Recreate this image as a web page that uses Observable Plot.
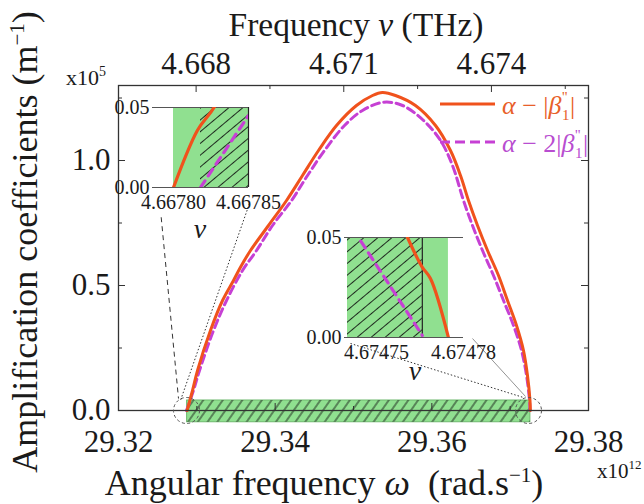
<!DOCTYPE html>
<html><head><meta charset="utf-8">
<script src="https://cdn.jsdelivr.net/npm/d3@7"></script>
<script src="https://cdn.jsdelivr.net/npm/@observablehq/plot@0.6"></script>
<style>
html,body{margin:0;padding:0;background:#fff;}
#wrap{position:relative;width:644px;height:504px;overflow:hidden;font-family:'Liberation Serif','Times New Roman',Times,'DejaVu Serif',serif;}
#wrap > svg{position:absolute;}
</style></head>
<body>
<svg width="0" height="0" style="position:absolute">
 <defs>
  <pattern id="hatchMain" patternUnits="userSpaceOnUse" width="8" height="8" patternTransform="rotate(35)">
   <line x1="4" y1="0" x2="4" y2="8" stroke="#1f2a1f" stroke-width="1"/>
  </pattern>
  <pattern id="hatchInset" patternUnits="userSpaceOnUse" width="9" height="9" patternTransform="rotate(50)">
   <line x1="4.5" y1="0" x2="4.5" y2="9" stroke="#1f2a1f" stroke-width="1"/>
  </pattern>
 </defs>
</svg>
<div id="wrap"></div>
<script>
// ---------- data (omega in 1e12 rad/s, amplitude in 1e5 m^-1) ----------
const orangeOmega = [29.32876, 29.32945, 29.33009, 29.33174, 29.33328, 29.33468, 29.33557, 29.33685, 29.33915, 29.34145, 29.34349, 29.34553, 29.34783, 29.35038, 29.35243, 29.35370, 29.35536, 29.35791, 29.36047, 29.36238, 29.36366, 29.36468, 29.36583, 29.36711, 29.36851, 29.36966, 29.37081, 29.37170, 29.37221, 29.37253, 29.37258];
const orangeAmp   = [0, 0.08, 0.16, 0.32, 0.44, 0.52, 0.573, 0.64, 0.74, 0.84, 0.94, 1.04, 1.14, 1.22, 1.26, 1.272, 1.26, 1.22, 1.14, 1.04, 0.94, 0.84, 0.74, 0.64, 0.54, 0.44, 0.34, 0.24, 0.14, 0.04, 0];
const magentaOmega = [29.32868, 29.32957, 29.33034, 29.33213, 29.33379, 29.33583, 29.33762, 29.33966, 29.34209, 29.34413, 29.34630, 29.34885, 29.35115, 29.35383, 29.35626, 29.35894, 29.36111, 29.36264, 29.36404, 29.36519, 29.36647, 29.36787, 29.36915, 29.37043, 29.37145, 29.37209, 29.37247, 29.37253];
const magentaAmp   = [0, 0.08, 0.16, 0.32, 0.44, 0.56, 0.64, 0.74, 0.84, 0.94, 1.04, 1.14, 1.20, 1.233, 1.22, 1.16, 1.08, 0.98, 0.84, 0.74, 0.64, 0.54, 0.44, 0.34, 0.24, 0.14, 0.04, 0];
const bandOmega = [29.32876, 29.37258];
const bandAmp = [-0.047, 0.04];
const xTicks = [29.32, 29.34, 29.36, 29.38];
const xMinor = [29.33, 29.35, 29.37];
const yTicks = [0, 0.5, 1.0];
const yMinor = [0.25, 0.75, 1.25];
const nuTicks = [4.668, 4.671, 4.674];
const nuMinor = [4.6695, 4.6725, 4.6755];
const zoomOmega = [29.32868, 29.37234];
const zoomAmp = [0, 0];
// connector lines [x1,y1,x2,y2]
const linkDashed = [[29.32545, 0.773, 29.32766, 0.048]];
const linkDotted = [[29.33672, 0.828, 29.32791, 0.04], [29.34962, 0.268, 29.37170, 0.052]];
const linkSolid  = [[29.36519, 0.288, 29.37196, 0.056]];
// inset 1 (frequency nu in THz, amplitude 1e5 m^-1)
const in1Domain = [4.667788, 4.66785];
const in1Ticks = [4.66780, 4.66785];
const in1OrangeNu = [4.66780, 4.6678159, 4.667827, 4.6678285];
const in1OrangeAmp = [0, 0.0356, 0.05, 0.0525];
const in1MagentaNu = [4.667818, 4.66785];
const in1MagentaAmp = [0, 0.045];
const in1Green = [4.66780, 4.66785];
const in1Hatch = [4.667818, 4.66785];
// inset 2
const in2Domain = [4.67474, 4.67478];
const in2Ticks = [4.67475, 4.67478];
const in2OrangeNu = [4.6747607, 4.6747658, 4.6747686, 4.6747748];
const in2OrangeAmp = [0.05, 0.0351, 0.0295, 0];
const in2MagentaNu = [4.6747446, 4.6747658];
const in2MagentaAmp = [0.0482, 0.001];
const in2Green = [4.67474, 4.6747748];
const in2Hatch = [4.67474, 4.6747658];
const insetYTicks = [0, 0.05];

// ---------- styles ----------
const FONT = "'Liberation Serif','Times New Roman',Times,'DejaVu Serif',serif";
const ORANGE = "#f0521c";
const MAGENTA = "#c640d4";
const GREEN = "#90e090";
const INK = "#1a1a1a";

const pts = (xs, ys) => xs.map((x, i) => ({x, y: ys[i]}));
const wrap = document.getElementById("wrap");

// ---------- main chart ----------
const PW = 470, PH = 325;
const main = Plot.plot({
  width: 644, height: 504,
  marginLeft: 118, marginRight: 56, marginTop: 85, marginBottom: 94,
  x: {domain: [29.32, 29.38]},
  y: {domain: [0, 1.3]},
  style: {fontFamily: FONT, fontSize: "31px", color: INK, background: "transparent", overflow: "visible"},
  marks: [
    Plot.rect([{a: bandOmega[0], b: bandOmega[1], c: bandAmp[0], d: bandAmp[1]}], {x1: "a", x2: "b", y1: "c", y2: "d", fill: GREEN, stroke: "#6cb86c", strokeWidth: 1}),
    Plot.rect([{a: bandOmega[0], b: bandOmega[1], c: bandAmp[0], d: bandAmp[1]}], {x1: "a", x2: "b", y1: "c", y2: "d", fill: "url(#hatchMain)"}),
    Plot.line(pts(magentaOmega, magentaAmp), {x: "x", y: "y", stroke: MAGENTA, strokeWidth: 3, strokeDasharray: "8,4.5", curve: "catmull-rom"}),
    Plot.line(pts(orangeOmega, orangeAmp), {x: "x", y: "y", stroke: ORANGE, strokeWidth: 3, curve: "catmull-rom"}),
    Plot.frame({stroke: "#333", strokeWidth: 1.3}),
    // inward ticks
    Plot.ruleX(xTicks, {x: d => d, insetTop: PH - 7, stroke: "#333"}),
    Plot.ruleX(xMinor, {x: d => d, insetTop: PH - 4, stroke: "#333"}),
    Plot.ruleX(nuTicks, {x: d => 2 * Math.PI * d, insetBottom: PH - 7, stroke: "#333"}),
    Plot.ruleX(nuMinor, {x: d => 2 * Math.PI * d, insetBottom: PH - 4, stroke: "#333"}),
    Plot.ruleY(yTicks, {y: d => d, insetRight: PW - 7, stroke: "#333"}),
    Plot.ruleY(yMinor, {y: d => d, insetRight: PW - 4, stroke: "#333"}),
    Plot.ruleY(yTicks, {y: d => d, insetLeft: PW - 7, stroke: "#333"}),
    Plot.ruleY(yMinor, {y: d => d, insetLeft: PW - 4, stroke: "#333"}),
    Plot.axisX(xTicks, {anchor: "bottom", tickSize: 0, tickPadding: 19, tickFormat: d3.format(".2f"), label: null}),
    Plot.axisX(nuTicks.map(n => 2 * Math.PI * n), {anchor: "top", tickSize: 0, tickPadding: 12, tickFormat: d => (d / (2 * Math.PI)).toFixed(3), label: null}),
    Plot.axisY(yTicks, {anchor: "left", tickSize: 0, tickPadding: 8, tickFormat: d3.format(".1f"), label: null}),
    // zoom markers and connectors
    Plot.dot(pts(zoomOmega, zoomAmp), {x: "x", y: "y", r: 13, stroke: "#555", strokeWidth: 1, strokeDasharray: "3,2.5", fill: "none"}),
    Plot.link(linkDashed, {x1: d => d[0], y1: d => d[1], x2: d => d[2], y2: d => d[3], stroke: "#333", strokeWidth: 1, strokeDasharray: "5,4"}),
    Plot.link(linkDotted, {x1: d => d[0], y1: d => d[1], x2: d => d[2], y2: d => d[3], stroke: "#333", strokeWidth: 1, strokeDasharray: "1.5,2"}),
    Plot.link(linkSolid, {x1: d => d[0], y1: d => d[1], x2: d => d[2], y2: d => d[3], stroke: "#777", strokeWidth: 0.8})
  ]
});
main.style.left = "0px"; main.style.top = "0px";
wrap.appendChild(main);

// ---------- insets ----------
function inset({left, top, mL, mR, pw, ph, domain, ticks, orNu, orAmp, mgNu, mgAmp, green, hatch, border}) {
  const svg = Plot.plot({
    width: mL + pw + mR, height: 7 + ph + 50,
    marginLeft: mL, marginRight: mR, marginTop: 7, marginBottom: 50,
    x: {domain},
    y: {domain: [0, 0.05]},
    style: {fontFamily: FONT, fontSize: "20px", color: INK, background: "transparent", overflow: "visible"},
    marks: [
      Plot.rect([{a: green[0], b: green[1]}], {x1: "a", x2: "b", y1: 0, y2: 0.05, fill: GREEN}),
      Plot.rect([{a: hatch[0], b: hatch[1]}], {x1: "a", x2: "b", y1: 0, y2: 0.05, fill: "url(#hatchInset)"}),
      Plot.ruleX([border], {x: d => d, y1: 0, y2: 0.05, stroke: "#222", strokeWidth: 1.2}),
      Plot.ruleY(insetYTicks, {y: d => d, stroke: "#555", strokeWidth: 1.2, insetLeft: -3}),
      Plot.line(pts(mgNu, mgAmp), {x: "x", y: "y", stroke: MAGENTA, strokeWidth: 3.2, strokeDasharray: "8,6", clip: true}),
      Plot.line(pts(orNu, orAmp), {x: "x", y: "y", stroke: ORANGE, strokeWidth: 3.2, curve: "monotone-x", clip: true}),
      Plot.axisX(ticks, {anchor: "bottom", tickSize: 0, tickPadding: 7, tickFormat: d => d.toFixed(5), label: null}),
      Plot.axisY(insetYTicks, {anchor: "left", tickSize: 0, tickPadding: 6, tickFormat: d3.format(".2f"), label: null})
    ]
  });
  svg.style.left = left + "px"; svg.style.top = top + "px";
  wrap.appendChild(svg);
}
inset({left: 105, top: 100, mL: 50, mR: 30, pw: 93, ph: 80, domain: in1Domain, ticks: in1Ticks,
  orNu: in1OrangeNu, orAmp: in1OrangeAmp, mgNu: in1MagentaNu, mgAmp: in1MagentaAmp, green: in1Green, hatch: in1Hatch, border: in1Hatch[1]});
inset({left: 296, top: 230, mL: 51, mR: 40, pw: 116, ph: 100, domain: in2Domain, ticks: in2Ticks,
  orNu: in2OrangeNu, orAmp: in2OrangeAmp, mgNu: in2MagentaNu, mgAmp: in2MagentaAmp, green: in2Green, hatch: in2Hatch, border: in2Hatch[1]});

// ---------- titles, legend, multipliers ----------
const ns = "http://www.w3.org/2000/svg";
const ov = document.createElementNS(ns, "svg");
ov.setAttribute("width", 644); ov.setAttribute("height", 504);
ov.style.left = "0px"; ov.style.top = "0px";
ov.style.fontFamily = FONT;
ov.innerHTML = `
<text x="356" y="36" text-anchor="middle" font-size="33.5" fill="${INK}">Frequency <tspan font-style="italic">ν</tspan> (THz)</text>
<text x="324" y="495" text-anchor="middle" font-size="36" fill="${INK}" xml:space="preserve">Angular frequency <tspan font-style="italic">ω</tspan>  (rad.s<tspan dy="-13" font-size="21">−1</tspan><tspan dy="13">)</tspan></text>
<text transform="translate(37,242) rotate(-90)" text-anchor="middle" font-size="36" fill="${INK}">Amplification coefficients (m<tspan dy="-13" font-size="21">−1</tspan><tspan dy="13">)</tspan></text>
<text x="66" y="85" font-size="22" fill="${INK}">x10<tspan dy="-9" font-size="14">5</tspan></text>
<text x="597" y="478" font-size="21" fill="${INK}">x10<tspan dy="-9" font-size="13">12</tspan></text>
<text x="200" y="238" text-anchor="middle" font-size="28" font-style="italic" fill="${INK}">ν</text>
<text x="415" y="380" text-anchor="middle" font-size="28" font-style="italic" fill="${INK}">ν</text>
<line x1="440" y1="104" x2="495" y2="104" stroke="${ORANGE}" stroke-width="3"/>
<line x1="440" y1="142" x2="495" y2="142" stroke="${MAGENTA}" stroke-width="3" stroke-dasharray="10,5"/>
<text x="502" y="114" font-size="26" fill="#e8602a"><tspan font-style="italic">α</tspan> − |<tspan font-style="italic">β</tspan><tspan font-size="15" dy="-12" dx="0.5">''</tspan><tspan font-size="15" dy="18" dx="-5.4">1</tspan><tspan dy="-6" dx="0.5">|</tspan></text>
<text x="502" y="152" font-size="26" fill="#b84dd0"><tspan font-style="italic">α</tspan> − 2|<tspan font-style="italic">β</tspan><tspan font-size="15" dy="-12" dx="0.5">''</tspan><tspan font-size="15" dy="18" dx="-5.4">1</tspan><tspan dy="-6" dx="0.5">|</tspan></text>
`;
wrap.appendChild(ov);
</script>
</body></html>
